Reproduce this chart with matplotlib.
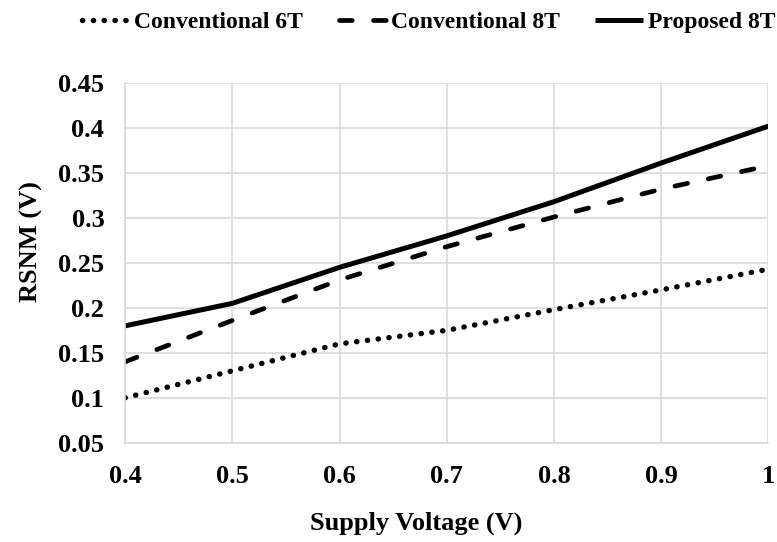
import matplotlib
matplotlib.use('Agg')
import matplotlib.pyplot as plt

plt.rcParams['font.family'] = ['Liberation Serif', 'DejaVu Serif']
plt.rcParams['font.weight'] = 'bold'

vdd = [0.4, 0.5, 0.6, 0.7, 0.8, 0.9, 1.0]
conv_6t = [0.100, 0.130, 0.160, 0.175, 0.198, 0.220, 0.243]
conv_8t = [0.140, 0.186, 0.231, 0.268, 0.301, 0.332, 0.358]
prop_8t = [0.180, 0.205, 0.245, 0.280, 0.318, 0.361, 0.402]

xticks = [0.4, 0.5, 0.6, 0.7, 0.8, 0.9, 1.0]
xticklabels = ['0.4', '0.5', '0.6', '0.7', '0.8', '0.9', '1']
yticks = [0.05, 0.1, 0.15, 0.2, 0.25, 0.3, 0.35, 0.4, 0.45]
yticklabels = ['0.05', '0.1', '0.15', '0.2', '0.25', '0.3', '0.35', '0.4', '0.45']

fig = plt.figure(figsize=(7.77, 5.42), dpi=100)
ax = fig.add_axes([0.161, 0.183, 0.828, 0.664])

ax.plot(vdd, conv_6t, color='black', lw=3.9, linestyle=(0, (0.05, 1.95)),
        dash_capstyle='round', label='Conventional 6T')
ax.plot(vdd, conv_8t, color='black', lw=3.4, linestyle=(0, (2.7, 4.5)),
        dash_capstyle='round', label='Conventional 8T')
ax.plot(vdd, prop_8t, color='black', lw=3.6, solid_capstyle='butt',
        label='Proposed 8T')

ax.set_xlim(0.4, 1.0)
ax.set_ylim(0.05, 0.45)
ax.set_xticks(xticks)
ax.set_xticklabels(xticklabels)
ax.set_yticks(yticks)
ax.set_yticklabels(yticklabels)
ax.tick_params(axis='x', length=0, labelsize=19, pad=16)
ax.tick_params(axis='y', length=0, labelsize=19, pad=15)
ax.grid(True, color='#d9d9d9', lw=1.2)
ax.set_axisbelow(True)
for side in ['top', 'right']:
    ax.spines[side].set_visible(False)
for side in ['left', 'bottom']:
    ax.spines[side].set_color('#d9d9d9')
    ax.spines[side].set_linewidth(1.2)

ax.set_xlabel('Supply Voltage (V)', fontsize=19, fontweight='bold')
ax.xaxis.label.set_va('center')
ax.xaxis.set_label_coords(0.4526, -0.225)
ax.set_ylabel('RSNM (V)', fontsize=19, fontweight='bold')
ax.yaxis.label.set_va('center')
ax.yaxis.set_label_coords(-0.146, 0.558)

fig.legend(loc='center left', bbox_to_anchor=(82 / 777, 1 - 22 / 542), ncol=3,
           frameon=False, fontsize=17, handlelength=2.0, handletextpad=0.22,
           columnspacing=1.5, borderpad=0, borderaxespad=0)

fig.savefig('out.png', dpi=100)
